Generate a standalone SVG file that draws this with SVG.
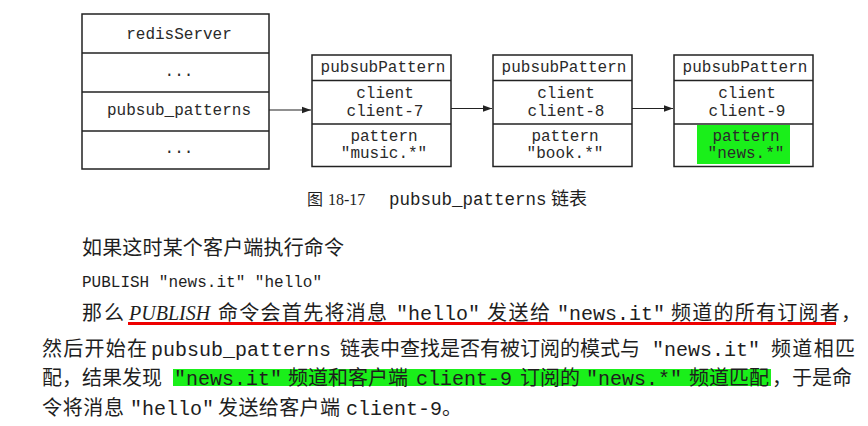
<svg xmlns="http://www.w3.org/2000/svg" width="868" height="426" viewBox="0 0 868 426">
<defs>
<marker id="arr" markerWidth="10" markerHeight="8" refX="9" refY="4" orient="auto" markerUnits="userSpaceOnUse"><path d="M0,0.8 L9,4 L0,7.2 Z" fill="#222"/></marker>
<style>
.box{fill:#fff;stroke:#222;stroke-width:1.5}
.dv{stroke:#222;stroke-width:1.3}
.m{font-family:"Liberation Mono","DejaVu Sans Mono",monospace;font-size:16px;fill:#2a2a2a;text-anchor:middle}
.cn{font-family:"Noto Sans CJK SC",sans-serif;font-size:20px;fill:#1e1e1e}
.mo{font-family:"Liberation Mono","DejaVu Sans Mono",monospace;font-size:20px;fill:#1e1e1e}
.it{font-family:"Liberation Serif","DejaVu Serif",serif;font-size:20px;font-style:italic;fill:#1e1e1e}
.conn{stroke:#222;stroke-width:1.2;fill:none}
</style>
</defs>

<g id="redisServer">
<rect class="box" x="82" y="14" width="187" height="155"/>
<line class="dv" x1="82" y1="53" x2="269" y2="53"/>
<line class="dv" x1="82" y1="92" x2="269" y2="92"/>
<line class="dv" x1="82" y1="131" x2="269" y2="131"/>
<text class="m" x="179" y="38.5">redisServer</text>
<text class="m" x="179" y="76">...</text>
<text class="m" x="179" y="115">pubsub_patterns</text>
<text class="m" x="179" y="153">...</text>
</g>

<g id="pattern1">
<rect class="box" x="312" y="55" width="139" height="111.5"/>
<line class="dv" x1="312" y1="80.5" x2="451" y2="80.5"/>
<line class="dv" x1="312" y1="124" x2="451" y2="124"/>
<text class="m" x="383" y="72">pubsubPattern</text>
<text class="m" x="385" y="98">client</text>
<text class="m" x="385" y="116">client-7</text>
<text class="m" x="384" y="141">pattern</text>
<text class="m" x="384" y="158">"music.*"</text>
</g>

<g id="pattern2">
<rect class="box" x="493" y="55" width="139" height="111.5"/>
<line class="dv" x1="493" y1="80.5" x2="632" y2="80.5"/>
<line class="dv" x1="493" y1="124" x2="632" y2="124"/>
<text class="m" x="564" y="72">pubsubPattern</text>
<text class="m" x="566" y="98">client</text>
<text class="m" x="566" y="116">client-8</text>
<text class="m" x="565" y="141">pattern</text>
<text class="m" x="565" y="158">"book.*"</text>
</g>

<g id="pattern3">
<rect class="box" x="674" y="55" width="139" height="111.5"/>
<line class="dv" x1="674" y1="80.5" x2="813" y2="80.5"/>
<line class="dv" x1="674" y1="124" x2="813" y2="124"/>
<rect x="697" y="125" width="93" height="39" fill="#1aef1a"/>
<text class="m" x="745" y="72">pubsubPattern</text>
<text class="m" x="747" y="98">client</text>
<text class="m" x="747" y="116">client-9</text>
<text class="m" x="746" y="141">pattern</text>
<text class="m" x="746" y="158">"news.*"</text>
</g>

<g id="connectors">
<line class="conn" x1="269" y1="110" x2="311" y2="110" marker-end="url(#arr)"/>
<line class="conn" x1="451" y1="108.5" x2="492" y2="108.5" marker-end="url(#arr)"/>
<line class="conn" x1="632" y1="108.5" x2="673" y2="108.5" marker-end="url(#arr)"/>
</g>

<g id="caption">
<text class="cn" x="307" y="205" style="font-size:16px">图</text>
<text x="328" y="205" style="font-family:'Liberation Serif',serif;font-size:16px;fill:#1e1e1e">18-17</text>
<text class="mo" x="389" y="205" style="font-size:17.5px">pubsub_patterns</text>
<text class="cn" x="551" y="205" style="font-size:18px">链表</text>
</g>

<g id="body">
<text class="cn" x="82" y="255" textLength="262" lengthAdjust="spacing">如果这时某个客户端执行命令</text>
<text class="mo" x="82" y="287" style="font-size:16px">PUBLISH "news.it" "hello"</text>

<text class="cn" x="82" y="320" textLength="42" lengthAdjust="spacing">那么</text>
<text class="it" x="129" y="320">PUBLISH</text>
<text class="cn" x="218" y="320" textLength="169" lengthAdjust="spacing">命令会首先将消息</text>
<text class="mo" x="396" y="320">"hello"</text>
<text class="cn" x="487" y="320" textLength="63" lengthAdjust="spacing">发送给</text>
<text class="mo" x="557" y="320">"news.it"</text>
<text class="cn" x="671" y="320" textLength="190" lengthAdjust="spacing">频道的所有订阅者，</text>
<line x1="128" y1="323.5" x2="836" y2="323.5" stroke="#ee0000" stroke-width="3"/>

<text class="cn" x="42" y="355.5" textLength="105" lengthAdjust="spacing">然后开始在</text>
<text class="mo" x="151" y="355.5">pubsub_patterns</text>
<text class="cn" x="340" y="355.5" textLength="300" lengthAdjust="spacing">链表中查找是否有被订阅的模式与</text>
<text class="mo" x="652" y="355.5">"news.it"</text>
<text class="cn" x="771" y="355.5" textLength="84" lengthAdjust="spacing">频道相匹</text>

<rect x="173" y="369" width="598" height="17" fill="#1aef1a"/>
<text class="cn" x="42" y="385">配，结果发现</text>
<text class="mo" x="174" y="385">"news.it"</text>
<text class="cn" x="288" y="385">频道和客户端</text>
<text class="mo" x="416" y="385">client-9</text>
<text class="cn" x="520" y="385">订阅的</text>
<text class="mo" x="586" y="385">"news.*"</text>
<text class="cn" x="689" y="385">频道匹配</text>
<text class="cn" x="772" y="385">，于是命</text>

<text class="cn" x="42" y="414.5" textLength="82" lengthAdjust="spacing">令将消息</text>
<text class="mo" x="130" y="414.5">"hello"</text>
<text class="cn" x="218" y="414.5" textLength="122" lengthAdjust="spacing">发送给客户端</text>
<text class="mo" x="346" y="414.5">client-9</text>
<text class="cn" x="442" y="414.5">。</text>
</g>
</svg>
